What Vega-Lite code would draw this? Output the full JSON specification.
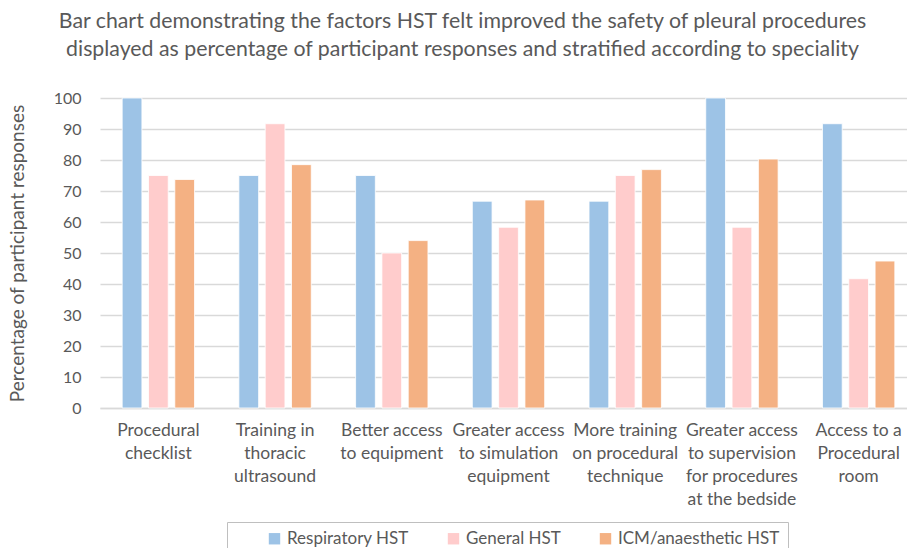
{
  "$schema": "https://vega.github.io/schema/vega-lite/v6.json",
  "width": 807,
  "height": 310,
  "autosize": {"type": "none"},
  "padding": {"left": 100, "top": 98, "right": 0, "bottom": 140},
  "background": "white",
  "title": {
    "text": [
      "Bar chart demonstrating the factors HST felt improved the safety of pleural procedures",
      "displayed as percentage of participant responses and stratified according to speciality"
    ],
    "anchor": "middle",
    "frame": "group",
    "dx": -41,
    "offset": 30,
    "font": "Lato",
    "fontSize": 21.3,
    "fontWeight": "normal",
    "color": "#595959",
    "lineHeight": 28,
    "baseline": "top"
  },
  "data": {
    "values": [
      {"factor": "Procedural|checklist", "group": "Respiratory HST", "value": 100},
      {"factor": "Procedural|checklist", "group": "General HST", "value": 75},
      {"factor": "Procedural|checklist", "group": "ICM/anaesthetic HST", "value": 73.7},
      {"factor": "Training in|thoracic|ultrasound", "group": "Respiratory HST", "value": 75},
      {"factor": "Training in|thoracic|ultrasound", "group": "General HST", "value": 91.7},
      {"factor": "Training in|thoracic|ultrasound", "group": "ICM/anaesthetic HST", "value": 78.5},
      {"factor": "Better access|to equipment", "group": "Respiratory HST", "value": 75},
      {"factor": "Better access|to equipment", "group": "General HST", "value": 50},
      {"factor": "Better access|to equipment", "group": "ICM/anaesthetic HST", "value": 54},
      {"factor": "Greater access|to simulation|equipment", "group": "Respiratory HST", "value": 66.7},
      {"factor": "Greater access|to simulation|equipment", "group": "General HST", "value": 58.3},
      {"factor": "Greater access|to simulation|equipment", "group": "ICM/anaesthetic HST", "value": 67.1},
      {"factor": "More training|on procedural|technique", "group": "Respiratory HST", "value": 66.7},
      {"factor": "More training|on procedural|technique", "group": "General HST", "value": 75},
      {"factor": "More training|on procedural|technique", "group": "ICM/anaesthetic HST", "value": 76.9},
      {"factor": "Greater access|to supervision|for procedures|at the bedside", "group": "Respiratory HST", "value": 100},
      {"factor": "Greater access|to supervision|for procedures|at the bedside", "group": "General HST", "value": 58.3},
      {"factor": "Greater access|to supervision|for procedures|at the bedside", "group": "ICM/anaesthetic HST", "value": 80.3},
      {"factor": "Access to a|Procedural|room", "group": "Respiratory HST", "value": 91.7},
      {"factor": "Access to a|Procedural|room", "group": "General HST", "value": 41.7},
      {"factor": "Access to a|Procedural|room", "group": "ICM/anaesthetic HST", "value": 47.4}
    ]
  },
  "mark": {"type": "bar", "stroke": "white", "strokeWidth": 0.8},
  "encoding": {
    "x": {
      "field": "factor",
      "type": "nominal",
      "sort": null,
      "scale": {"range": [0, 817], "paddingInner": 0.38, "paddingOuter": 0.19},
      "axis": {
        "title": null,
        "labelAngle": 0,
        "labelExpr": "split(datum.label, '|')",
        "labelFont": "Lato",
        "labelFontSize": 17.5,
        "labelColor": "#595959",
        "labelLineHeight": 23,
        "labelBaseline": "top",
        "labelPadding": 13,
        "labelLimit": 200,
        "ticks": false,
        "tickSize": 0,
        "domain": true,
        "domainColor": "#d9d9d9",
        "domainWidth": 1.5,
        "grid": false
      }
    },
    "xOffset": {
      "field": "group",
      "type": "nominal",
      "sort": ["Respiratory HST", "General HST", "ICM/anaesthetic HST"],
      "scale": {"paddingInner": 0.25, "paddingOuter": 0}
    },
    "y": {
      "field": "value",
      "type": "quantitative",
      "scale": {"domain": [0, 100], "nice": false},
      "axis": {
        "title": "Percentage of participant responses",
        "titleFont": "Lato",
        "titleFontSize": 19,
        "titleFontWeight": "normal",
        "titleColor": "#595959",
        "titlePadding": 26,
        "values": [0, 10, 20, 30, 40, 50, 60, 70, 80, 90, 100],
        "labelFont": "Lato",
        "labelFontSize": 16,
        "labelColor": "#595959",
        "labelPadding": 19,
        "ticks": false,
        "tickSize": 0,
        "domain": false,
        "grid": true,
        "gridColor": "#d9d9d9",
        "gridWidth": 1.5
      }
    },
    "color": {
      "field": "group",
      "type": "nominal",
      "scale": {
        "domain": ["Respiratory HST", "General HST", "ICM/anaesthetic HST"],
        "range": ["#9DC3E6", "#FFCCCC", "#F4B183"]
      },
      "legend": {
        "title": null,
        "orient": "none",
        "direction": "horizontal",
        "legendX": 127,
        "legendY": 424,
        "padding": 8,
        "symbolType": "square",
        "symbolSize": 130,
        "symbolOffset": 31,
        "symbolStrokeWidth": 0,
        "labelFont": "Lato",
        "labelFontSize": 17,
        "labelColor": "#595959",
        "labelOffset": 4,
        "labelLimit": 300,
        "columnPadding": 5,
        "strokeColor": "#bfbfbf",
        "fillColor": "white"
      }
    }
  },
  "config": {"view": {"stroke": null}}
}
